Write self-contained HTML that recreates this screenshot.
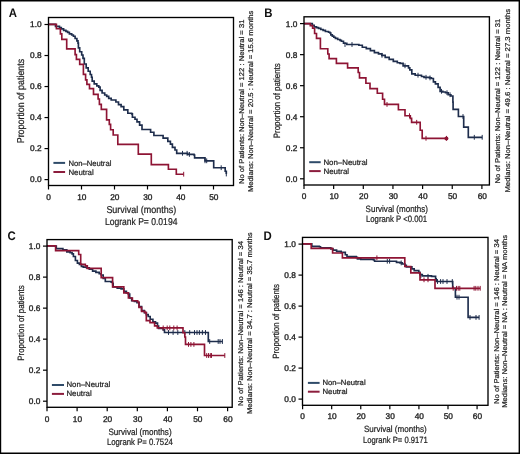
<!DOCTYPE html><html><head><meta charset="utf-8"><style>html,body{margin:0;padding:0;background:#fff;width:520px;height:454px;overflow:hidden}svg{display:block;will-change:transform}text{font-family:"Liberation Sans",sans-serif;fill:#222;stroke:#222;stroke-width:0.22px;text-rendering:geometricPrecision} text.t{stroke-width:0.34px}</style></head><body>
<svg width="520" height="454" viewBox="0 0 520 454">
<rect x="0" y="0" width="520" height="454" fill="#fff"/>
<line x1="0" y1="0.7" x2="520" y2="0.7" stroke="#000" stroke-width="1.4"/>
<line x1="0.6" y1="0" x2="0.6" y2="454" stroke="#000" stroke-width="1.2"/>
<line x1="519.3" y1="0" x2="519.3" y2="454" stroke="#000" stroke-width="1.4"/>
<line x1="0" y1="453.2" x2="520" y2="453.2" stroke="#000" stroke-width="1.6"/>
<g><path d="M48,24.4 L53,24.4 L55.5,24.4 L55.5,26.3 L59.5,26.3 L59.5,27.5 L61.3,27.5 L61.3,28.9 L63.6,28.9 L63.6,30.4 L65.9,30.4 L65.9,31.3 L67.6,31.3 L67.6,32.4 L69.4,32.4 L69.4,33.8 L71.7,33.8 L71.7,35 L73.4,35 L73.4,36.2 L75.1,36.2 L75.1,38.5 L76.9,38.5 L76.9,40.8 L78,40.8 L78,43.1 L78.4,43.1 L78.4,47.8 L79.7,47.8 L79.7,51.7 L81.7,51.7 L81.7,55 L83,55 L83,58.3 L84.3,58.3 L84.3,62.3 L84.3,64 L86.2,64 L86.2,67.9 L88.2,67.9 L88.2,71.2 L90.2,71.2 L90.2,74.5 L91.5,74.5 L91.5,77.2 L92.2,77.2 L92.2,81.1 L94.2,81.1 L94.2,83.8 L96.8,83.8 L96.8,85.8 L98.8,85.8 L98.8,87.1 L100.1,87.1 L100.1,90.4 L102.1,90.4 L102.1,93 L104.7,93 L104.7,95 L106.7,95 L106.7,96.3 L108.7,96.3 L108.7,98.3 L111.2,98.3 L111.2,100 L115.9,100 L115.9,102 L118.5,102 L118.5,104.6 L121.1,104.6 L121.1,106.6 L123.8,106.6 L123.8,109.9 L127.8,109.9 L127.8,113.2 L131.7,113.2 L131.7,113.9 L132.4,113.9 L132.4,117.2 L135,117.2 L135,119.2 L137,119.2 L137,121.8 L139.6,121.8 L139.6,125.1 L142,125.1 L142,129.5 L149.3,129.5 L150.6,129.5 L150.6,132.2 L153.9,132.2 L153.9,135.5 L161.1,135.5 L163.1,135.5 L163.1,138.1 L166.4,138.1 L167.8,138.1 L167.8,141.4 L170.4,141.4 L170.4,144.1 L172.4,144.1 L172.4,147.4 L175,147.4 L175,150 L176.7,150 L176.7,153.3 L186.5,153.3 L187.7,153.3 L187.7,154.4 L194,154.4 L194,155 L194.6,155 L194.6,157.9 L203.8,157.9 L205,157.9 L205,160.8 L213.1,160.8 L213.7,160.8 L213.7,167.7 L224.6,167.7 L225.2,167.7 L225.2,171.2 L226.3,171.2 L226.3,174" fill="none" stroke="#1e2d4c" stroke-width="1.65" stroke-linejoin="miter"/><path d="M182.5,155.7 v-4.8 M187.1,155.7 v-4.8 M189.4,156.8 v-4.8 M205,163.2 v-4.8 M206.7,163.2 v-4.8 M221.2,170.1 v-4.8 M226.3,176.4 v-4.8" stroke="#1e2d4c" stroke-width="1.0"/><path d="M48,24.4 L56.4,24.4 L56.4,28.7 L60.4,28.7 L60.4,33.8 L61.8,33.8 L61.8,39.3 L66.7,39.3 L66.7,48.8 L75.1,48.8 L75.1,54.6 L76.4,54.6 L76.4,59.4 L79.7,59.4 L79.7,64.3 L83.4,64.3 L83.4,74.3 L85.6,74.3 L85.6,79.8 L86.9,79.8 L86.9,84.4 L89.5,84.4 L89.5,88.6 L93.5,88.6 L93.5,94.4 L98.1,94.4 L98.1,99 L99.4,99 L99.4,104.3 L101.3,104.3 L101.3,109.4 L106.6,109.4 L106.6,119.8 L109.3,119.8 L109.3,124.4 L110.6,124.4 L110.6,129.7 L113.2,129.7 L113.2,135 L117.8,135 L117.8,144.3 L138.3,144.3 L138.3,154.1 L151.3,154.1 L151.3,164.6 L168.4,164.6 L168.4,169.2 L176.3,169.2 L176.3,174.2 L183.7,174.2" fill="none" stroke="#8e1434" stroke-width="1.65" stroke-linejoin="miter"/><path d="M183.7,176.6 v-4.8" stroke="#8e1434" stroke-width="1.0"/><rect x="48.5" y="17.5" width="185" height="168" fill="none" stroke="#000" stroke-width="1.35"/><line x1="44.5" y1="179.6" x2="48.5" y2="179.6" stroke="#000" stroke-width="1.2"/><text transform="translate(41.6,182) scale(1.0,1)" font-size="8.3" text-anchor="end" class="t">0.0</text><line x1="44.5" y1="148.58" x2="48.5" y2="148.58" stroke="#000" stroke-width="1.2"/><text transform="translate(41.6,150.98) scale(1.0,1)" font-size="8.3" text-anchor="end" class="t">0.2</text><line x1="44.5" y1="117.56" x2="48.5" y2="117.56" stroke="#000" stroke-width="1.2"/><text transform="translate(41.6,119.96) scale(1.0,1)" font-size="8.3" text-anchor="end" class="t">0.4</text><line x1="44.5" y1="86.54" x2="48.5" y2="86.54" stroke="#000" stroke-width="1.2"/><text transform="translate(41.6,88.94) scale(1.0,1)" font-size="8.3" text-anchor="end" class="t">0.6</text><line x1="44.5" y1="55.52" x2="48.5" y2="55.52" stroke="#000" stroke-width="1.2"/><text transform="translate(41.6,57.92) scale(1.0,1)" font-size="8.3" text-anchor="end" class="t">0.8</text><line x1="44.5" y1="24.5" x2="48.5" y2="24.5" stroke="#000" stroke-width="1.2"/><text transform="translate(41.6,26.9) scale(1.0,1)" font-size="8.3" text-anchor="end" class="t">1.0</text><line x1="48.5" y1="185.5" x2="48.5" y2="189.5" stroke="#000" stroke-width="1.2"/><text transform="translate(48.5,199.6) scale(1.0,1)" font-size="8.3" text-anchor="middle" class="t">0</text><line x1="81.5" y1="185.5" x2="81.5" y2="189.5" stroke="#000" stroke-width="1.2"/><text transform="translate(81.85,199.6) scale(1.0,1)" font-size="8.3" text-anchor="middle" class="t">10</text><line x1="114.5" y1="185.5" x2="114.5" y2="189.5" stroke="#000" stroke-width="1.2"/><text transform="translate(114.85,199.6) scale(1.0,1)" font-size="8.3" text-anchor="middle" class="t">20</text><line x1="147.5" y1="185.5" x2="147.5" y2="189.5" stroke="#000" stroke-width="1.2"/><text transform="translate(147.85,199.6) scale(1.0,1)" font-size="8.3" text-anchor="middle" class="t">30</text><line x1="180.5" y1="185.5" x2="180.5" y2="189.5" stroke="#000" stroke-width="1.2"/><text transform="translate(180.85,199.6) scale(1.0,1)" font-size="8.3" text-anchor="middle" class="t">40</text><line x1="213.5" y1="185.5" x2="213.5" y2="189.5" stroke="#000" stroke-width="1.2"/><text transform="translate(213.85,199.6) scale(1.0,1)" font-size="8.3" text-anchor="middle" class="t">50</text><text transform="translate(8.7,17) scale(0.92,1)" font-size="12.4" font-weight="bold" style="fill:#111;stroke:none">A</text><text x="106.4" y="213.1" font-size="10.0" textLength="69.8" lengthAdjust="spacingAndGlyphs">Survival (months)</text><text x="104.9" y="224.6" font-size="10.0" textLength="72.5" lengthAdjust="spacingAndGlyphs">Logrank P= 0.0194</text><text transform="translate(23.6,143.3) rotate(-90)" font-size="10.0" textLength="84.5" lengthAdjust="spacingAndGlyphs">Proportion of patients</text><text transform="translate(244.2,184) rotate(-90)" font-size="7.0" textLength="164.4" lengthAdjust="spacingAndGlyphs">No of Patients: Non–Neutral = 122 : Neutral = 31</text><text transform="translate(252.8,192.1) rotate(-90)" font-size="7.0" textLength="181.5" lengthAdjust="spacingAndGlyphs">Medians: Non–Neutral = 20.5 : Neutral = 15.6 months</text><line x1="53.4" y1="162.9" x2="65.1" y2="162.9" stroke="#2f4b69" stroke-width="2"/><line x1="53.4" y1="172" x2="65.1" y2="172" stroke="#8c1d3d" stroke-width="2"/><text x="68.4" y="165.8" font-size="7.8" textLength="43" lengthAdjust="spacingAndGlyphs">Non–Neutral</text><text x="68.4" y="174.8" font-size="7.8" textLength="25.3" lengthAdjust="spacingAndGlyphs">Neutral</text></g>
<g><path d="M304,23.6 L310.8,23.6 L312.3,23.6 L312.3,25.3 L314.2,25.3 L314.2,26.8 L316.5,26.8 L316.5,27.6 L318.5,27.6 L318.5,28.4 L320.8,28.4 L320.8,29.5 L323.1,29.5 L323.1,30.3 L325.4,30.3 L325.4,31.5 L328.5,31.5 L328.5,32.2 L330,32.2 L330,33 L330.8,33 L330.8,34.9 L332.3,34.9 L332.3,36.1 L333.8,36.1 L333.8,37.2 L335.4,37.2 L335.4,38.4 L337.7,38.4 L337.7,39.5 L340,39.5 L340,40.3 L341.4,40.3 L341.4,41.2 L343.5,41.2 L343.5,43.2 L346.8,43.2 L346.8,44.5 L356.9,44.5 L358.9,44.5 L358.9,45.2 L362.3,45.2 L362.3,47.2 L366.3,47.2 L366.3,48.6 L370.4,48.6 L370.4,50.6 L374.4,50.6 L374.4,52.6 L378.5,52.6 L378.5,53.9 L381.8,53.9 L381.8,55.3 L385.2,55.3 L385.2,57.3 L389.2,57.3 L389.2,59.3 L393.3,59.3 L393.3,61.3 L397.3,61.3 L397.3,62.7 L400,62.7 L400,63.4 L403.1,63.4 L403.1,65.8 L408.5,65.8 L408.5,67.8 L409.8,67.8 L409.8,69.8 L411.8,69.8 L411.8,73.8 L415.2,73.8 L415.2,75.2 L421.5,75.2 L421.5,76.5 L424,76.5 L424,77.3 L429.5,77.3 L429.5,77.9 L431.4,77.9 L431.4,78.5 L433.4,78.5 L433.4,81.9 L435.4,81.9 L435.4,83.9 L438.1,83.9 L438.1,87.3 L440.1,87.3 L440.1,91.3 L442.8,91.3 L442.8,92 L445.5,92 L445.5,92.7 L448.2,92.7 L448.2,94.7 L450.9,94.7 L450.9,96 L452.9,96 L452.9,102.1 L453.1,102.1 L453.1,109.3 L458.4,109.3 L458.4,116.5 L463,116.5 L463.7,116.5 L463.7,127.1 L468.3,127.1 L468.3,137.3 L482.2,137.3" fill="none" stroke="#1e2d4c" stroke-width="1.65" stroke-linejoin="miter"/><path d="M345,46.9 v-4.8 M352,46.9 v-4.8 M382,57.7 v-4.8 M405,68.2 v-4.8 M418,77.6 v-4.8 M426,79.7 v-4.8 M430,80.3 v-4.8 M441.5,93.7 v-4.8 M447,95.1 v-4.8 M450,97.1 v-4.8 M463,118.9 v-4.8 M474.3,139.7 v-4.8 M482.2,139.7 v-4.8" stroke="#1e2d4c" stroke-width="1.0"/><path d="M304,23.6 L310.3,23.6 L310.3,25.6 L312.6,25.6 L312.6,28.2 L314.6,28.2 L314.6,33.5 L316.5,33.5 L316.5,38.3 L320.4,38.3 L320.4,48.7 L327.8,48.7 L327.8,54 L329.1,54 L329.1,58.6 L336.4,58.6 L336.4,63.3 L347.6,63.3 L347.6,67.9 L358.2,67.9 L358.2,72.5 L359.5,72.5 L359.5,77.8 L365.9,77.8 L365.9,83.2 L370,83.2 L370,88.6 L377.3,88.6 L377.3,93.2 L382.6,93.2 L382.6,99.2 L384.5,99.2 L384.5,104.4 L398.4,104.4 L398.4,109.7 L405,109.7 L405,115.7 L410.3,115.7 L410.3,118.3 L411.6,118.3 L411.6,122.3 L420.2,122.3 L420.2,130.2 L422.2,130.2 L422.2,138.3 L446.5,138.3" fill="none" stroke="#8e1434" stroke-width="1.65" stroke-linejoin="miter"/><path d="M387,106.8 v-4.8 M409.5,118.1 v-4.8 M416.7,124.7 v-4.8 M426,140.7 v-4.8 M446.5,140.7 v-4.8" stroke="#8e1434" stroke-width="1.0"/><ellipse cx="446.4" cy="138.4" rx="2.0" ry="2.0" fill="#8e1434"/><rect x="304" y="16.8" width="185.4" height="168.2" fill="none" stroke="#000" stroke-width="1.35"/><line x1="300" y1="178.8" x2="304" y2="178.8" stroke="#000" stroke-width="1.2"/><text transform="translate(297.4,181.8) scale(1.0,1)" font-size="8.3" text-anchor="end" class="t">0.0</text><line x1="300" y1="147.76" x2="304" y2="147.76" stroke="#000" stroke-width="1.2"/><text transform="translate(297.4,150.76) scale(1.0,1)" font-size="8.3" text-anchor="end" class="t">0.2</text><line x1="300" y1="116.72" x2="304" y2="116.72" stroke="#000" stroke-width="1.2"/><text transform="translate(297.4,119.72) scale(1.0,1)" font-size="8.3" text-anchor="end" class="t">0.4</text><line x1="300" y1="85.68" x2="304" y2="85.68" stroke="#000" stroke-width="1.2"/><text transform="translate(297.4,88.68) scale(1.0,1)" font-size="8.3" text-anchor="end" class="t">0.6</text><line x1="300" y1="54.64" x2="304" y2="54.64" stroke="#000" stroke-width="1.2"/><text transform="translate(297.4,57.64) scale(1.0,1)" font-size="8.3" text-anchor="end" class="t">0.8</text><line x1="300" y1="23.6" x2="304" y2="23.6" stroke="#000" stroke-width="1.2"/><text transform="translate(297.4,26.6) scale(1.0,1)" font-size="8.3" text-anchor="end" class="t">1.0</text><line x1="304" y1="185" x2="304" y2="189" stroke="#000" stroke-width="1.2"/><text transform="translate(304,199) scale(1.0,1)" font-size="8.3" text-anchor="middle" class="t">0</text><line x1="333.65" y1="185" x2="333.65" y2="189" stroke="#000" stroke-width="1.2"/><text transform="translate(334,199) scale(1.0,1)" font-size="8.3" text-anchor="middle" class="t">10</text><line x1="363.3" y1="185" x2="363.3" y2="189" stroke="#000" stroke-width="1.2"/><text transform="translate(363.65,199) scale(1.0,1)" font-size="8.3" text-anchor="middle" class="t">20</text><line x1="392.95" y1="185" x2="392.95" y2="189" stroke="#000" stroke-width="1.2"/><text transform="translate(393.3,199) scale(1.0,1)" font-size="8.3" text-anchor="middle" class="t">30</text><line x1="422.6" y1="185" x2="422.6" y2="189" stroke="#000" stroke-width="1.2"/><text transform="translate(422.95,199) scale(1.0,1)" font-size="8.3" text-anchor="middle" class="t">40</text><line x1="452.25" y1="185" x2="452.25" y2="189" stroke="#000" stroke-width="1.2"/><text transform="translate(452.6,199) scale(1.0,1)" font-size="8.3" text-anchor="middle" class="t">50</text><line x1="481.9" y1="185" x2="481.9" y2="189" stroke="#000" stroke-width="1.2"/><text transform="translate(482.25,199) scale(1.0,1)" font-size="8.3" text-anchor="middle" class="t">60</text><text transform="translate(264.2,17.2) scale(0.92,1)" font-size="12.4" font-weight="bold" style="fill:#111;stroke:none">B</text><text x="365.6" y="211.5" font-size="9.2" textLength="62.4" lengthAdjust="spacingAndGlyphs">Survival (months)</text><text x="366" y="221.6" font-size="9.2" textLength="61.1" lengthAdjust="spacingAndGlyphs">Logrank P <0.001</text><text transform="translate(279.6,138.2) rotate(-90)" font-size="9.2" textLength="74.9" lengthAdjust="spacingAndGlyphs">Proportion of patients</text><text transform="translate(500,183.4) rotate(-90)" font-size="7.0" textLength="164.6" lengthAdjust="spacingAndGlyphs">No of Patients: Non–Neutral = 122 : Neutral = 31</text><text transform="translate(509.8,192.6) rotate(-90)" font-size="7.0" textLength="183.8" lengthAdjust="spacingAndGlyphs">Medians: Non–Neutral = 49.6 : Neutral = 27.3 months</text><line x1="309.2" y1="162.2" x2="320.7" y2="162.2" stroke="#2f4b69" stroke-width="2"/><line x1="309.2" y1="171.1" x2="320.7" y2="171.1" stroke="#8c1d3d" stroke-width="2"/><text x="323.4" y="164.9" font-size="7.8" textLength="44.2" lengthAdjust="spacingAndGlyphs">Non–Neutral</text><text x="323.4" y="173.9" font-size="7.8" textLength="25.7" lengthAdjust="spacingAndGlyphs">Neutral</text></g>
<g><path d="M47,246 L54.9,246 L56.3,246 L56.3,248.6 L60.2,248.6 L62.9,248.6 L62.9,249.9 L66.8,249.9 L66.8,251.9 L70.1,251.9 L70.1,252.6 L72.1,252.6 L72.1,253.9 L73.4,253.9 L73.4,256.5 L75.4,256.5 L75.4,260.5 L77.4,260.5 L77.4,263.1 L79.4,263.1 L79.4,264.4 L81.4,264.4 L81.4,266.4 L83.3,266.4 L83.3,267.1 L86.6,267.1 L86.6,267.8 L89.3,267.8 L89.3,269.1 L92.6,269.1 L92.6,271.1 L95.9,271.1 L95.9,272.4 L99.2,272.4 L99.2,273.7 L101.2,273.7 L101.2,275 L103.2,275 L103.2,278.3 L105.3,278.3 L105.3,281.5 L111.2,281.5 L111.2,282.2 L112.6,282.2 L112.6,283.5 L113.2,283.5 L113.2,286.8 L117.2,286.8 L117.2,288.1 L121.1,288.1 L121.1,288.8 L123.8,288.8 L123.8,291.4 L126.4,291.4 L126.4,292.8 L128.4,292.8 L128.4,294.1 L129.7,294.1 L129.7,298 L131.7,298 L131.7,300.7 L134.4,300.7 L134.4,301.3 L137,301.3 L137,302.7 L139,302.7 L139,306.6 L141.6,306.6 L141.6,310.6 L144.3,310.6 L144.3,312.6 L146.3,312.6 L146.3,314.6 L148.2,314.6 L148.2,316.5 L150.2,316.5 L150.2,319.2 L152.9,319.2 L152.9,321.8 L155.5,321.8 L155.5,323.1 L157.5,323.1 L157.5,326 L158.6,326 L158.6,328.5 L163.2,328.5 L163.2,329.8 L164.5,329.8 L164.5,332.5 L208.3,332.5 L208.3,341.5 L222.4,341.5" fill="none" stroke="#1e2d4c" stroke-width="1.65" stroke-linejoin="miter"/><path d="M168.5,334.9 v-4.8 M173.1,334.9 v-4.8 M177.8,334.9 v-4.8 M184.8,334.9 v-4.8 M189.7,334.9 v-4.8 M194.5,334.9 v-4.8 M197,334.9 v-4.8 M199.4,334.9 v-4.8 M202.4,334.9 v-4.8 M205.5,334.9 v-4.8 M209.7,343.9 v-4.8 M218.2,343.9 v-4.8 M220,343.9 v-4.8 M222.4,343.9 v-4.8" stroke="#1e2d4c" stroke-width="1.0"/><path d="M47,245.9 L55.6,245.9 L55.6,250.6 L78.7,250.6 L78.7,254.5 L80.7,254.5 L80.7,264.4 L85.3,264.4 L85.3,265.8 L87.3,265.8 L87.3,268.4 L101.2,268.4 L101.2,277.6 L112.6,277.6 L112.6,286.8 L123.8,286.8 L123.8,292.8 L128.4,292.8 L128.4,298 L132.4,298 L132.4,300.7 L137.7,300.7 L137.7,302 L139,302 L139,307.3 L141.6,307.3 L141.6,311.3 L144.9,311.3 L144.9,312.6 L146.3,312.6 L146.3,320.6 L150,320.6 L150,322.6 L154.6,322.6 L154.6,325.9 L157.3,325.9 L157.3,327.9 L183,327.9 L183,332.7 L184.8,332.7 L184.8,337 L185.5,337 L185.5,344.4 L204.5,344.4 L204.5,355.5 L224.8,355.5" fill="none" stroke="#8e1434" stroke-width="1.65" stroke-linejoin="miter"/><path d="M163.2,330.3 v-4.8 M167.2,330.3 v-4.8 M169.8,330.3 v-4.8 M173.8,330.3 v-4.8 M177.1,330.3 v-4.8 M188.5,346.8 v-4.8 M190.9,346.8 v-4.8 M193.9,346.8 v-4.8 M206.7,357.9 v-4.8 M208.5,357.9 v-4.8 M210.3,357.9 v-4.8 M211.5,357.9 v-4.8 M224.8,357.9 v-4.8" stroke="#8e1434" stroke-width="1.0"/><rect x="47" y="239.6" width="185.2" height="167.7" fill="none" stroke="#000" stroke-width="1.35"/><line x1="43" y1="401.2" x2="47" y2="401.2" stroke="#000" stroke-width="1.2"/><text transform="translate(40.4,404.2) scale(1.0,1)" font-size="8.3" text-anchor="end" class="t">0.0</text><line x1="43" y1="370.18" x2="47" y2="370.18" stroke="#000" stroke-width="1.2"/><text transform="translate(40.4,373.18) scale(1.0,1)" font-size="8.3" text-anchor="end" class="t">0.2</text><line x1="43" y1="339.16" x2="47" y2="339.16" stroke="#000" stroke-width="1.2"/><text transform="translate(40.4,342.16) scale(1.0,1)" font-size="8.3" text-anchor="end" class="t">0.4</text><line x1="43" y1="308.14" x2="47" y2="308.14" stroke="#000" stroke-width="1.2"/><text transform="translate(40.4,311.14) scale(1.0,1)" font-size="8.3" text-anchor="end" class="t">0.6</text><line x1="43" y1="277.12" x2="47" y2="277.12" stroke="#000" stroke-width="1.2"/><text transform="translate(40.4,280.12) scale(1.0,1)" font-size="8.3" text-anchor="end" class="t">0.8</text><line x1="43" y1="246.1" x2="47" y2="246.1" stroke="#000" stroke-width="1.2"/><text transform="translate(40.4,249.1) scale(1.0,1)" font-size="8.3" text-anchor="end" class="t">1.0</text><line x1="47" y1="407.3" x2="47" y2="411.3" stroke="#000" stroke-width="1.2"/><text transform="translate(47,421.5) scale(1.0,1)" font-size="8.3" text-anchor="middle" class="t">0</text><line x1="77.1" y1="407.3" x2="77.1" y2="411.3" stroke="#000" stroke-width="1.2"/><text transform="translate(77.45,421.5) scale(1.0,1)" font-size="8.3" text-anchor="middle" class="t">10</text><line x1="107.2" y1="407.3" x2="107.2" y2="411.3" stroke="#000" stroke-width="1.2"/><text transform="translate(107.55,421.5) scale(1.0,1)" font-size="8.3" text-anchor="middle" class="t">20</text><line x1="137.3" y1="407.3" x2="137.3" y2="411.3" stroke="#000" stroke-width="1.2"/><text transform="translate(137.65,421.5) scale(1.0,1)" font-size="8.3" text-anchor="middle" class="t">30</text><line x1="167.4" y1="407.3" x2="167.4" y2="411.3" stroke="#000" stroke-width="1.2"/><text transform="translate(167.75,421.5) scale(1.0,1)" font-size="8.3" text-anchor="middle" class="t">40</text><line x1="197.5" y1="407.3" x2="197.5" y2="411.3" stroke="#000" stroke-width="1.2"/><text transform="translate(197.85,421.5) scale(1.0,1)" font-size="8.3" text-anchor="middle" class="t">50</text><line x1="227.6" y1="407.3" x2="227.6" y2="411.3" stroke="#000" stroke-width="1.2"/><text transform="translate(227.95,421.5) scale(1.0,1)" font-size="8.3" text-anchor="middle" class="t">60</text><text transform="translate(7.45,239.7) scale(0.92,1)" font-size="12.4" font-weight="bold" style="fill:#111;stroke:none">C</text><text x="108.4" y="434.7" font-size="9.2" textLength="63.2" lengthAdjust="spacingAndGlyphs">Survival (months)</text><text x="106.9" y="445" font-size="9.2" textLength="65.9" lengthAdjust="spacingAndGlyphs">Logrank P= 0.7524</text><text transform="translate(23.6,360.8) rotate(-90)" font-size="9.2" textLength="75.4" lengthAdjust="spacingAndGlyphs">Proportion of patients</text><text transform="translate(243.1,405.9) rotate(-90)" font-size="7.0" textLength="164.8" lengthAdjust="spacingAndGlyphs">No of Patients: Non–Neutral = 146 : Neutral = 34</text><text transform="translate(251.9,414.1) rotate(-90)" font-size="7.0" textLength="181.6" lengthAdjust="spacingAndGlyphs">Medians: Non–Neutral = 34.7 : Neutral = 35.7 months</text><line x1="51.9" y1="385" x2="64" y2="385" stroke="#2f4b69" stroke-width="2"/><line x1="51.9" y1="393.9" x2="64" y2="393.9" stroke="#8c1d3d" stroke-width="2"/><text x="66.4" y="387.1" font-size="7.8" textLength="43.9" lengthAdjust="spacingAndGlyphs">Non–Neutral</text><text x="66.4" y="396.1" font-size="7.8" textLength="25.3" lengthAdjust="spacingAndGlyphs">Neutral</text></g>
<g><path d="M302.6,243.8 L310.7,243.8 L311.8,243.8 L311.8,246.3 L319.3,246.3 L319.3,246.7 L320.5,246.7 L320.5,247.8 L330.8,247.8 L330.8,249 L333.2,249 L333.2,250.1 L336.6,250.1 L336.6,251.3 L341.2,251.3 L341.2,252.4 L345.3,252.4 L345.3,254.7 L347,254.7 L347,256.5 L356.2,256.5 L356.2,257.4 L357.4,257.4 L357.4,258.8 L360.8,258.8 L360.8,259.4 L373.5,259.4 L373.5,260 L374.6,260 L374.6,261.2 L391.9,261.2 L396.5,261.2 L396.5,262.3 L400,262.3 L400,262.9 L402.3,262.9 L402.3,264 L405,264 L405,265.4 L406.3,265.4 L406.3,266.9 L411.9,266.9 L411.9,268.8 L414.2,268.8 L414.2,270.6 L418.8,270.6 L418.8,272.3 L420,272.3 L420,274.6 L422.3,274.6 L422.3,275.8 L431.5,275.8 L431.5,276.3 L435.6,276.3 L435.6,278.7 L436.2,278.7 L436.2,281.5 L452.7,281.5 L452.7,288.2 L455.4,288.2 L455.4,297.2 L468.1,297.2 L468.1,317.4 L479.1,317.4" fill="none" stroke="#1e2d4c" stroke-width="1.65" stroke-linejoin="miter"/><path d="M387.3,263.6 v-4.8 M389.6,263.6 v-4.8 M401.2,265.3 v-4.8 M420.8,278.2 v-4.8 M428,278.7 v-4.8 M437.5,283.9 v-4.8 M440.6,283.9 v-4.8 M443,283.9 v-4.8 M447,283.9 v-4.8 M452.3,283.9 v-4.8 M457,299.6 v-4.8 M459,299.6 v-4.8 M470,319.8 v-4.8 M476,319.8 v-4.8 M479.1,319.8 v-4.8" stroke="#1e2d4c" stroke-width="1.0"/><path d="M302.6,243.8 L311.2,243.8 L311.2,248.4 L332.6,248.4 L332.6,253 L342.4,253 L342.4,257.8 L404.8,257.8 L404.8,266.5 L410.8,266.5 L410.8,272.9 L420,272.9 L420,279.8 L435,279.8 L435,288.3 L480.2,288.3" fill="none" stroke="#8e1434" stroke-width="1.65" stroke-linejoin="miter"/><path d="M376.9,260.2 v-4.8 M424,282.2 v-4.8 M428,282.2 v-4.8 M453.2,290.7 v-4.8 M456.5,290.7 v-4.8 M458.2,290.7 v-4.8 M459.8,290.7 v-4.8 M474.1,290.7 v-4.8 M475.8,290.7 v-4.8 M478,290.7 v-4.8 M480.2,290.7 v-4.8" stroke="#8e1434" stroke-width="1.0"/><rect x="302.5" y="237.4" width="185.5" height="167.9" fill="none" stroke="#000" stroke-width="1.35"/><line x1="298.5" y1="399.1" x2="302.5" y2="399.1" stroke="#000" stroke-width="1.2"/><text transform="translate(295.9,402.1) scale(1.0,1)" font-size="8.3" text-anchor="end" class="t">0.0</text><line x1="298.5" y1="368.1" x2="302.5" y2="368.1" stroke="#000" stroke-width="1.2"/><text transform="translate(295.9,371.1) scale(1.0,1)" font-size="8.3" text-anchor="end" class="t">0.2</text><line x1="298.5" y1="337.1" x2="302.5" y2="337.1" stroke="#000" stroke-width="1.2"/><text transform="translate(295.9,340.1) scale(1.0,1)" font-size="8.3" text-anchor="end" class="t">0.4</text><line x1="298.5" y1="306.1" x2="302.5" y2="306.1" stroke="#000" stroke-width="1.2"/><text transform="translate(295.9,309.1) scale(1.0,1)" font-size="8.3" text-anchor="end" class="t">0.6</text><line x1="298.5" y1="275.1" x2="302.5" y2="275.1" stroke="#000" stroke-width="1.2"/><text transform="translate(295.9,278.1) scale(1.0,1)" font-size="8.3" text-anchor="end" class="t">0.8</text><line x1="298.5" y1="244.1" x2="302.5" y2="244.1" stroke="#000" stroke-width="1.2"/><text transform="translate(295.9,247.1) scale(1.0,1)" font-size="8.3" text-anchor="end" class="t">1.0</text><line x1="302.6" y1="405.3" x2="302.6" y2="409.3" stroke="#000" stroke-width="1.2"/><text transform="translate(302.6,419.2) scale(1.0,1)" font-size="8.3" text-anchor="middle" class="t">0</text><line x1="331.68" y1="405.3" x2="331.68" y2="409.3" stroke="#000" stroke-width="1.2"/><text transform="translate(332.03,419.2) scale(1.0,1)" font-size="8.3" text-anchor="middle" class="t">10</text><line x1="360.76" y1="405.3" x2="360.76" y2="409.3" stroke="#000" stroke-width="1.2"/><text transform="translate(361.11,419.2) scale(1.0,1)" font-size="8.3" text-anchor="middle" class="t">20</text><line x1="389.84" y1="405.3" x2="389.84" y2="409.3" stroke="#000" stroke-width="1.2"/><text transform="translate(390.19,419.2) scale(1.0,1)" font-size="8.3" text-anchor="middle" class="t">30</text><line x1="418.92" y1="405.3" x2="418.92" y2="409.3" stroke="#000" stroke-width="1.2"/><text transform="translate(419.27,419.2) scale(1.0,1)" font-size="8.3" text-anchor="middle" class="t">40</text><line x1="448" y1="405.3" x2="448" y2="409.3" stroke="#000" stroke-width="1.2"/><text transform="translate(448.35,419.2) scale(1.0,1)" font-size="8.3" text-anchor="middle" class="t">50</text><line x1="477.08" y1="405.3" x2="477.08" y2="409.3" stroke="#000" stroke-width="1.2"/><text transform="translate(477.43,419.2) scale(1.0,1)" font-size="8.3" text-anchor="middle" class="t">60</text><text transform="translate(263.5,239.6) scale(0.92,1)" font-size="12.4" font-weight="bold" style="fill:#111;stroke:none">D</text><text x="364" y="431.8" font-size="9.0" textLength="62.6" lengthAdjust="spacingAndGlyphs">Survival (months)</text><text x="363" y="442.6" font-size="9.0" textLength="64.8" lengthAdjust="spacingAndGlyphs">Logrank P= 0.9171</text><text transform="translate(279,358.8) rotate(-90)" font-size="9.0" textLength="74.8" lengthAdjust="spacingAndGlyphs">Proportion of patients</text><text transform="translate(498.5,404) rotate(-90)" font-size="7.0" textLength="164.9" lengthAdjust="spacingAndGlyphs">No of Patients: Non–Neutral = 146 : Neutral = 34</text><text transform="translate(507.3,407.8) rotate(-90)" font-size="7.0" textLength="172.9" lengthAdjust="spacingAndGlyphs">Medians: Non–Neutral = NA : Neutral = NA months</text><line x1="307.9" y1="382.9" x2="319.6" y2="382.9" stroke="#2f4b69" stroke-width="2"/><line x1="307.9" y1="391.7" x2="319.6" y2="391.7" stroke="#8c1d3d" stroke-width="2"/><text x="322.5" y="385.1" font-size="7.5" textLength="43.1" lengthAdjust="spacingAndGlyphs">Non–Neutral</text><text x="322.5" y="394" font-size="7.5" textLength="25" lengthAdjust="spacingAndGlyphs">Neutral</text></g>
</svg></body></html>
